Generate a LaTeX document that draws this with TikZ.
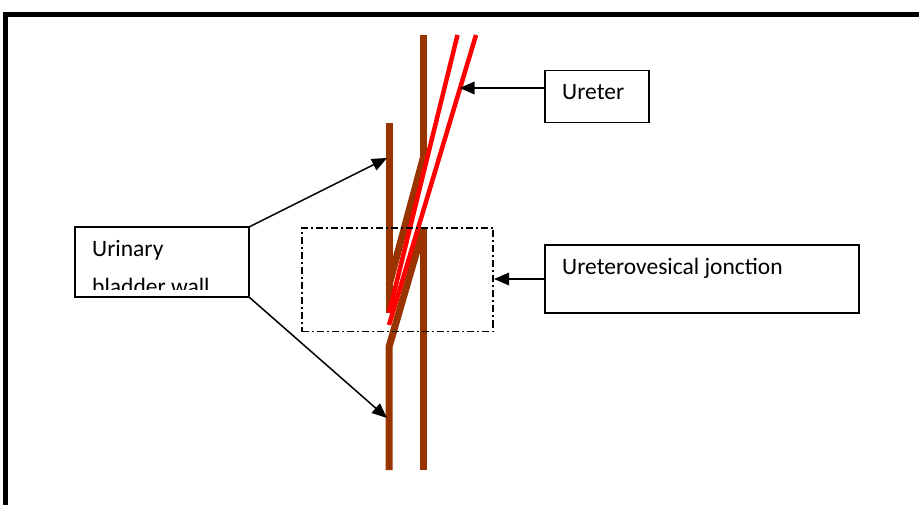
\documentclass[tikz,border=0pt]{standalone}
\usepackage{fontspec}
\setmainfont{Carlito}
\usetikzlibrary{arrows.meta}
\definecolor{wallbrown}{HTML}{993300}
\begin{document}
\begin{tikzpicture}[x=1pt,y=-1pt,
  wall/.style={wallbrown, line width=7pt},
  duct/.style={red, line width=4.5pt},
  labelbox/.style={draw, line width=1.4pt, rectangle, inner sep=0pt, outer sep=0pt},
  labeltext/.style={font=\fontsize{23.5}{27}\selectfont, inner sep=0pt, anchor=base west},
  pointer/.style={line width=1.5pt, -{Triangle[length=15pt,width=12.5pt]}},
  zone/.style={draw, line width=1.3pt, dash pattern=on 7pt off 3pt on 2pt off 3pt,
    inner sep=0pt, outer sep=0pt}
]
\useasboundingbox (0,0) rectangle (919,505);
\clip (0,0) rectangle (919,505);

% outer frame
\draw[line width=5pt] (5.5,15) rectangle (940,530);

% bladder wall pieces
\draw[wall] (389,123) -- (389,313);
\draw[wall] (423.5,35) -- (423.5,157);
\draw[wall] (423.5,157) -- (389,285);
\draw[wall] (423.5,228) -- (423.5,470);
\draw[wall] (423.5,228) -- (389,347) -- (389,470);

% ureter walls
\draw[duct] (457.5,35) -- (389,313);
\draw[duct] (476,35) -- (389,325);

% junction zone
\node[zone, minimum width=191pt, minimum height=103.5pt] (zone) at (397.5,279.75) {};

% label boxes
\node[labelbox, minimum width=104pt, minimum height=51.5pt] (ureterbox) at (597,96.5) {};
\node[labelbox, minimum width=314pt, minimum height=68pt] (junctionbox) at (702,279) {};
\node[labelbox, minimum width=174pt, minimum height=70pt] (bladderbox) at (162,262) {};

\node[labeltext] (ureterlabel) at (562,100) {Ureter};
\node[labeltext] (junctionlabel) at (562,275) {Ureterovesical jonction};
\begin{scope}
  \clip (76,228) rectangle (248,289.5);
  \node[labeltext] (bladderlabela) at (92,257) {Urinary};
  \node[labeltext] (bladderlabelb) at (92,294.5) {bladder wall};
\end{scope}

% pointers
\coordinate (tipU) at (459.5,88);
\coordinate (tipJ) at (494,279);
\coordinate (tipA) at (387,158);
\coordinate (tipB) at (387,418);
\draw[pointer] (ureterbox.west |- tipU) -- (tipU);
\draw[pointer] (junctionbox.west) -- (tipJ);
\draw[pointer] (bladderbox.north east) -- (tipA);
\draw[pointer] (bladderbox.south east) -- (tipB);
\end{tikzpicture}
\end{document}
